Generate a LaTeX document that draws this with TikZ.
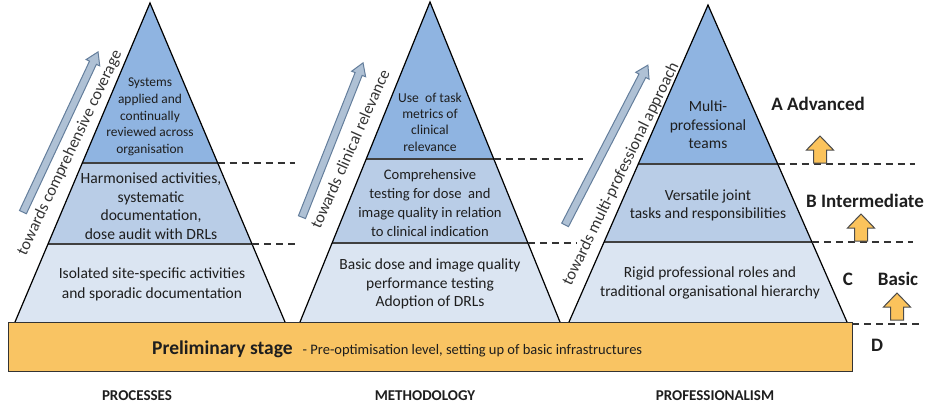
\documentclass[tikz,border=0pt]{standalone}
\usepackage{fontspec}
\setmainfont{Carlito}
\usetikzlibrary{calc}
\definecolor{topblue}{HTML}{8FB4E1}
\definecolor{midblue}{HTML}{B9CDE7}
\definecolor{lowblue}{HTML}{DBE5F2}
\definecolor{orangebar}{HTML}{F9C463}
\definecolor{liftfill}{HTML}{FBC35C}
\definecolor{growfill}{HTML}{AFC1D5}
\definecolor{growedge}{HTML}{647E9C}
\definecolor{inktext}{HTML}{1E1E1E}
\tikzset{
  outline/.style={draw=black, line width=1.2pt, line join=miter},
  divider/.style={draw=black!75, line width=1.2pt},
  dashline/.style={draw=black!80, line width=1.3pt, dash pattern=on 7pt off 5pt},
  bandtext/.style={align=center, inner sep=0pt, text=inktext},
  leveltext/.style={inner sep=0pt, text=inktext, font=\fontsize{19}{22}\selectfont\bfseries},
  pillartext/.style={inner sep=0pt, text=inktext, font=\fontsize{15}{18}\selectfont\bfseries},
  sidetext/.style={inner sep=0pt, text=inktext!90, font=\fontsize{16.5}{19}\selectfont},
  stagebox/.style={draw=black!80, line width=1.4pt, fill=orangebar, inner sep=0pt},
  growarrow/.pic={
    \path[pic actions] (-#1/2,-3.8) -- (#1/2-12,-3.8) -- (#1/2-12,-7.5) -- (#1/2,0)
      -- (#1/2-12,7.5) -- (#1/2-12,3.8) -- (-#1/2,3.8) -- cycle;
  },
  lift/.pic={
    \path[pic actions] (-6.5,0) -- (-6.5,-13) -- (-13.5,-13) -- (0,-27) -- (13.5,-13)
      -- (6.5,-13) -- (6.5,0) -- cycle;
  },
}
\begin{document}
\begin{tikzpicture}[x=1pt,y=-1pt]
\useasboundingbox (0,0) rectangle (940,416);

% ---------- Pyramid 1 : processes
\coordinate (p1t) at (150,3);
\coordinate (p1l) at (15,322);
\coordinate (p1r) at (285,322);
\coordinate (p1al) at (82.3,163);
\coordinate (p1ar) at (217.7,163);
\coordinate (p1bl) at (48,244);
\coordinate (p1br) at (252,244);
\fill[topblue] (p1t) -- (p1ar) -- (p1al) -- cycle;
\fill[midblue] (p1al) -- (p1ar) -- (p1br) -- (p1bl) -- cycle;
\fill[lowblue] (p1bl) -- (p1br) -- (p1r) -- (p1l) -- cycle;
\draw[divider] (p1al) -- (p1ar);
\draw[divider] (p1bl) -- (p1br);
\draw[outline] (p1l) -- (p1t) -- (p1r);
\coordinate (d1a) at (295,163);
\coordinate (d1b) at (295,244);
\draw[dashline] (p1ar) -- (d1a);
\draw[dashline] (p1br) -- (d1b);

% ---------- Pyramid 2 : methodology
\coordinate (p2t) at (430,2);
\coordinate (p2l) at (300,322);
\coordinate (p2r) at (560,322);
\coordinate (p2al) at (366.2,159);
\coordinate (p2ar) at (493.8,159);
\coordinate (p2bl) at (332.1,243);
\coordinate (p2br) at (527.9,243);
\fill[topblue] (p2t) -- (p2ar) -- (p2al) -- cycle;
\fill[midblue] (p2al) -- (p2ar) -- (p2br) -- (p2bl) -- cycle;
\fill[lowblue] (p2bl) -- (p2br) -- (p2r) -- (p2l) -- cycle;
\draw[divider] (p2al) -- (p2ar);
\draw[divider] (p2bl) -- (p2br);
\draw[outline] (p2l) -- (p2t) -- (p2r);
\coordinate (d2a) at (583,159);
\coordinate (d2b) at (577,243);
\draw[dashline] (p2ar) -- (d2a);
\draw[dashline] (p2br) -- (d2b);

% ---------- Pyramid 3 : professionalism
\coordinate (p3t) at (708,5);
\coordinate (p3l) at (569,322);
\coordinate (p3r) at (847,322);
\coordinate (p3al) at (638.3,164);
\coordinate (p3ar) at (777.7,164);
\coordinate (p3bl) at (604.1,242);
\coordinate (p3br) at (811.9,242);
\fill[topblue] (p3t) -- (p3ar) -- (p3al) -- cycle;
\fill[midblue] (p3al) -- (p3ar) -- (p3br) -- (p3bl) -- cycle;
\fill[lowblue] (p3bl) -- (p3br) -- (p3r) -- (p3l) -- cycle;
\draw[divider] (p3al) -- (p3ar);
\draw[divider] (p3bl) -- (p3br);
\draw[outline] (p3l) -- (p3t) -- (p3r);
\coordinate (d3a) at (915,164);
\coordinate (d3b) at (913,242);
\draw[dashline] (p3ar) -- (d3a);
\draw[dashline] (p3br) -- (d3b);

% ---------- Preliminary stage bar
\node[stagebox, minimum width=844pt, minimum height=49pt, anchor=north west] (stage) at (8,322) {};
\coordinate (d4s) at (852,324);
\coordinate (d4a) at (920,324);
\draw[dashline] (d4s) -- (d4a);
\node[anchor=base west, inner sep=0pt, text=inktext] (stagetext) at (152,354)
  {{\fontsize{19.5}{22}\selectfont\bfseries Preliminary stage}\hspace{10pt}{\fontsize{14.5}{17}\selectfont - Pre-optimisation level, setting up of basic infrastructures}};

% ---------- texts in pyramid 1
\node[bandtext, font=\fontsize{13.4}{16.7}\selectfont] (p1top) at (150,117)
  {Systems\\applied and\\continually\\reviewed across\\organisation};
\node[bandtext, font=\fontsize{15.6}{18.7}\selectfont] (p1mid) at (151,206)
  {Harmonised activities,\\systematic\\documentation,\\dose audit with DRLs};
\node[bandtext, font=\fontsize{15.5}{20}\selectfont] (p1low) at (152,284)
  {Isolated site-specific activities\\and sporadic documentation};

% ---------- texts in pyramid 2
\node[bandtext, font=\fontsize{13.6}{16.4}\selectfont] (p2top) at (430,122)
  {Use\ \ of task\\metrics of\\clinical\\relevance};
\node[bandtext, font=\fontsize{14.6}{19.3}\selectfont] (p2mid) at (430,203)
  {Comprehensive\\testing for dose\ \ and\\image quality in relation\\to clinical indication};
\node[bandtext, font=\fontsize{15.5}{18.5}\selectfont] (p2low) at (430,284)
  {Basic dose and image quality\\performance testing\\Adoption of DRLs};

% ---------- texts in pyramid 3
\node[bandtext, font=\fontsize{15.5}{18.5}\selectfont] (p3top) at (708,125)
  {Multi-\\professional\\teams};
\node[bandtext, font=\fontsize{15.5}{18}\selectfont] (p3mid) at (708,205)
  {Versatile joint\\tasks and responsibilities};
\node[bandtext, font=\fontsize{15.5}{19}\selectfont] (p3low) at (710,283)
  {Rigid professional roles and\\traditional organisational hierarchy};

% ---------- direction arrows and texts
\pic[rotate=64.9, fill=growfill, draw=growedge, line width=1pt] at (60.5,132) {growarrow=177};
\pic[rotate=68.4, fill=growfill, draw=growedge, line width=1pt] at (332.5,140) {growarrow=166};
\pic[rotate=62.6, fill=growfill, draw=growedge, line width=1pt] at (606.5,145) {growarrow=180};
\node[sidetext, rotate=64.6] (s1) at (70,153) {towards comprehensive coverage};
\node[sidetext, rotate=66] (s2) at (350,149) {towards clinical relevance};
\node[sidetext, rotate=64] (s3) at (621,174) {towards multi-professional approach};

% ---------- level labels and lift arrows
\node[leveltext, anchor=base] (lvA) at (818,110) {A Advanced};
\node[leveltext, anchor=base] (lvB) at (865,207) {B Intermediate};
\node[leveltext, anchor=base] (lvC) at (848,285) {C};
\node[leveltext, anchor=base] (lvBasic) at (898,285) {Basic};
\node[leveltext, anchor=base] (lvD) at (877,351) {D};
\pic[fill=liftfill, draw=black!70, line width=1pt] at (820,163) {lift};
\pic[fill=liftfill, draw=black!70, line width=1pt] at (861,241) {lift};
\pic[fill=liftfill, draw=black!70, line width=1pt] at (897,320) {lift};

% ---------- pillar labels
\node[pillartext, anchor=base] (c1) at (137,400) {PROCESSES};
\node[pillartext, anchor=base] (c2) at (425,400) {METHODOLOGY};
\node[pillartext, anchor=base] (c3) at (715,400) {PROFESSIONALISM};
\end{tikzpicture}
\end{document}
